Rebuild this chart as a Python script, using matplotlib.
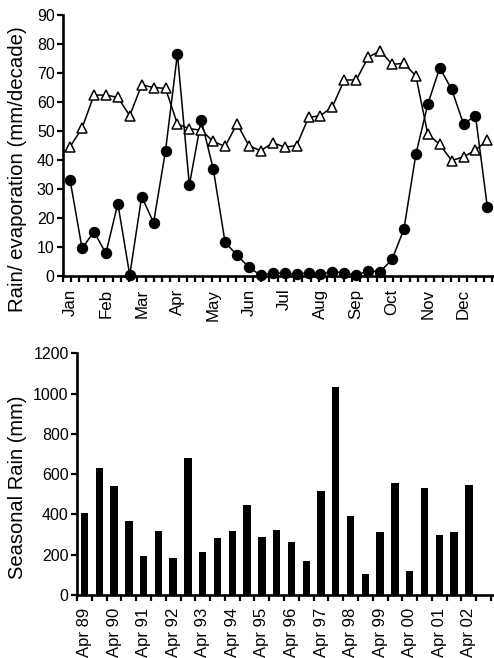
import matplotlib
matplotlib.use("Agg")
import matplotlib.pyplot as plt
import numpy as np

plt.rcParams["font.family"] = ["Liberation Sans", "DejaVu Sans"]

# Ten-day (decade) means through the year: 3 per month
rain = [33, 9.5, 15.3, 7.8, 25, 0.3, 27.4, 18.4, 43.2, 76.6, 31.4, 53.8,
        37, 11.6, 7.2, 3.0, 0.2, 1.1, 0.9, 0.7, 1.1, 0.6, 1.5, 1.1,
        0.3, 1.8, 1.5, 5.7, 16.2, 42, 59.2, 71.8, 64.4, 52.4, 55.3, 23.7]
evap = [44.6, 51, 62.4, 62.4, 61.6, 55.3, 65.9, 65, 64.7, 52.4, 50.8, 50.3,
        46.4, 44.7, 52.5, 44.9, 43.2, 46, 44.4, 45, 54.7, 55.3, 58.4, 67.6,
        67.6, 75.4, 77.7, 73, 73.3, 69, 48.9, 45.4, 39.8, 41.1, 43.4, 46.9]
months = ["Jan", "Feb", "Mar", "Apr", "May", "Jun",
          "Jul", "Aug", "Sep", "Oct", "Nov", "Dec"]

# Seasonal totals, two seasons per year starting Apr 89
seasonal = [405, 629, 543, 367, 195, 320, 185, 679, 215, 285, 316, 445,
            290, 323, 263, 171, 515, 1035, 391, 106, 311, 558, 118, 531,
            300, 313, 545]
years = ["89", "90", "91", "92", "93", "94", "95",
         "96", "97", "98", "99", "00", "01", "02"]

fig = plt.figure(figsize=(4.94, 6.58), dpi=100)
ax1 = fig.add_axes([0.1275, 0.5805, 0.870, 0.3967])
ax2 = fig.add_axes([0.156, 0.0957, 0.841, 0.3673])


def style(ax):
    for s in ("top", "right"):
        ax.spines[s].set_visible(False)
    for s in ("left", "bottom"):
        ax.spines[s].set_linewidth(1.9)
    ax.tick_params(which="major", direction="out", length=4, width=1.6,
                   labelsize=11.5, pad=2)


# top panel
x = np.arange(len(rain))
ax1.plot(x, rain, color="black", lw=1.1, marker="o", ms=7.2,
         mfc="black", mec="black", zorder=3, clip_on=False)
ax1.plot(x, evap, color="black", lw=1.1, marker="^", ms=7.5,
         mfc="white", mec="black", mew=1.1, zorder=4, clip_on=False)
ax1.set_xlim(-0.6, 35.45)
ax1.set_ylim(0, 90)
ax1.set_yticks(range(0, 91, 10))
weeks = -0.6 + np.arange(53) * 36 / 52
ax1.set_xticks(weeks)
ax1.set_xticklabels([])
ax1.set_xticks(np.arange(0, 36, 3), minor=True)
ax1.set_xticklabels(months, minor=True, rotation=90)
style(ax1)
ax1.tick_params(axis="x", which="minor", length=0, labelsize=12.2, pad=9)
ax1.set_ylabel("Rain/ evaporation (mm/decade)", fontsize=14.7)
ax1.yaxis.set_label_coords(-0.084, 0.41)

# bottom panel
xb = np.arange(len(seasonal))
ax2.bar(xb, seasonal, width=0.5, color="black")
ax2.set_xlim(-0.5, 27.6)
ax2.set_ylim(0, 1200)
ax2.set_yticks(range(0, 1201, 200))
ax2.set_xticks(np.arange(-0.5, 28, 1))
ax2.set_xticklabels([])
ax2.set_xticks(np.arange(0, 27, 2), minor=True)
ax2.set_xticklabels(["Apr " + y for y in years], minor=True, rotation=90)
style(ax2)
ax2.tick_params(axis="x", which="minor", length=0, labelsize=12, pad=9)
ax2.set_ylabel("Seasonal Rain (mm)", fontsize=14.5)
ax2.yaxis.set_label_coords(-0.12, 0.444)

fig.savefig("out.png", dpi=100)
